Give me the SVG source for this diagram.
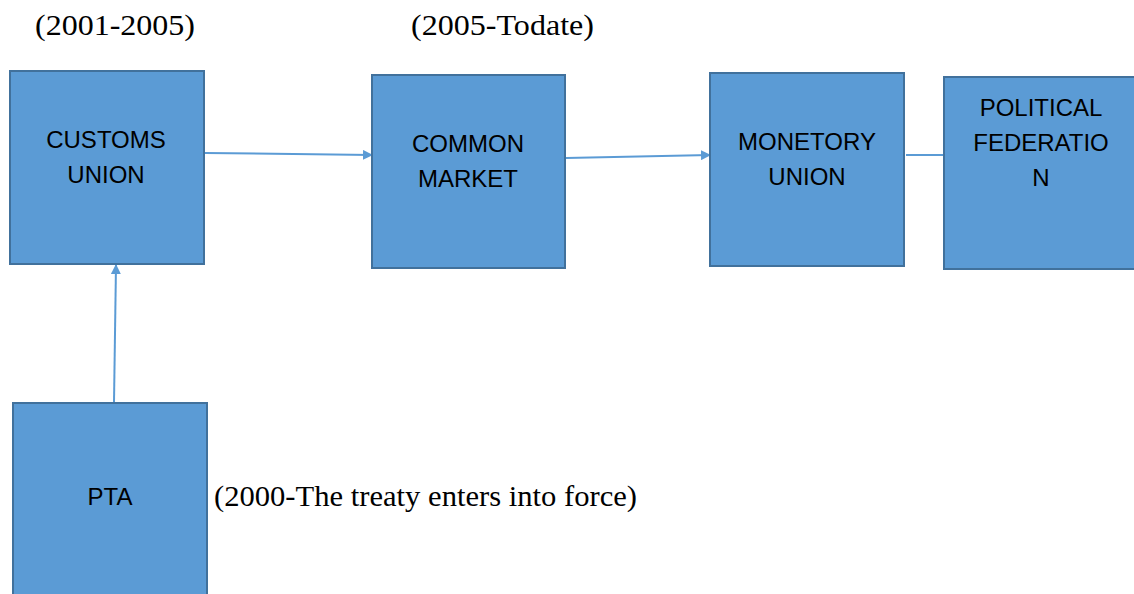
<svg xmlns="http://www.w3.org/2000/svg" width="1134" height="594" viewBox="0 0 1134 594">
<style>
.box{fill:#5B9BD5;stroke:#41719C;stroke-width:2}
.lbl{font-family:"Liberation Sans",Arial,sans-serif;font-size:24px;fill:#000;text-anchor:middle}
.ser{font-family:"Liberation Serif","Times New Roman",serif;font-size:29px;fill:#000}
.con{stroke:#5B9BD5;stroke-width:2;fill:none}
</style>
<defs>
<marker id="arr" viewBox="0 0 10 10" refX="9" refY="5" markerWidth="5" markerHeight="5" orient="auto" markerUnits="strokeWidth">
<path d="M0,0 L10,5 L0,10 z" fill="#5B9BD5"/>
</marker>
</defs>
<rect width="1134" height="594" fill="#fff"/>
<text class="ser" x="35" y="35" textLength="160" lengthAdjust="spacingAndGlyphs">(2001-2005)</text>
<text class="ser" x="411" y="35" textLength="183" lengthAdjust="spacingAndGlyphs">(2005-Todate)</text>
<text class="ser" x="214" y="506" textLength="423" lengthAdjust="spacingAndGlyphs">(2000-The treaty enters into force)</text>
<g id="connectors">
<line class="con" x1="205" y1="153" x2="372" y2="155" marker-end="url(#arr)"/>
<line class="con" x1="566" y1="158" x2="710" y2="155" marker-end="url(#arr)"/>
<line class="con" x1="906" y1="155" x2="944" y2="155"/>
<line class="con" x1="114" y1="402" x2="116" y2="265" marker-end="url(#arr)"/>
</g>
<g id="customs">
<rect class="box" x="10" y="71" width="194" height="193"/>
<text class="lbl" x="106" y="148">CUSTOMS</text>
<text class="lbl" x="106" y="183">UNION</text>
</g>
<g id="common">
<rect class="box" x="372" y="75" width="193" height="193"/>
<text class="lbl" x="468" y="152">COMMON</text>
<text class="lbl" x="468" y="187">MARKET</text>
</g>
<g id="monetory">
<rect class="box" x="710" y="73" width="194" height="193"/>
<text class="lbl" x="807" y="150">MONETORY</text>
<text class="lbl" x="807" y="185">UNION</text>
</g>
<g id="political">
<rect class="box" x="944" y="77" width="194" height="192"/>
<text class="lbl" x="1041" y="116">POLITICAL</text>
<text class="lbl" x="1041" y="151">FEDERATIO</text>
<text class="lbl" x="1041" y="186">N</text>
</g>
<g id="pta">
<rect class="box" x="13" y="403" width="194" height="200"/>
<text class="lbl" x="110" y="505">PTA</text>
</g>
</svg>
